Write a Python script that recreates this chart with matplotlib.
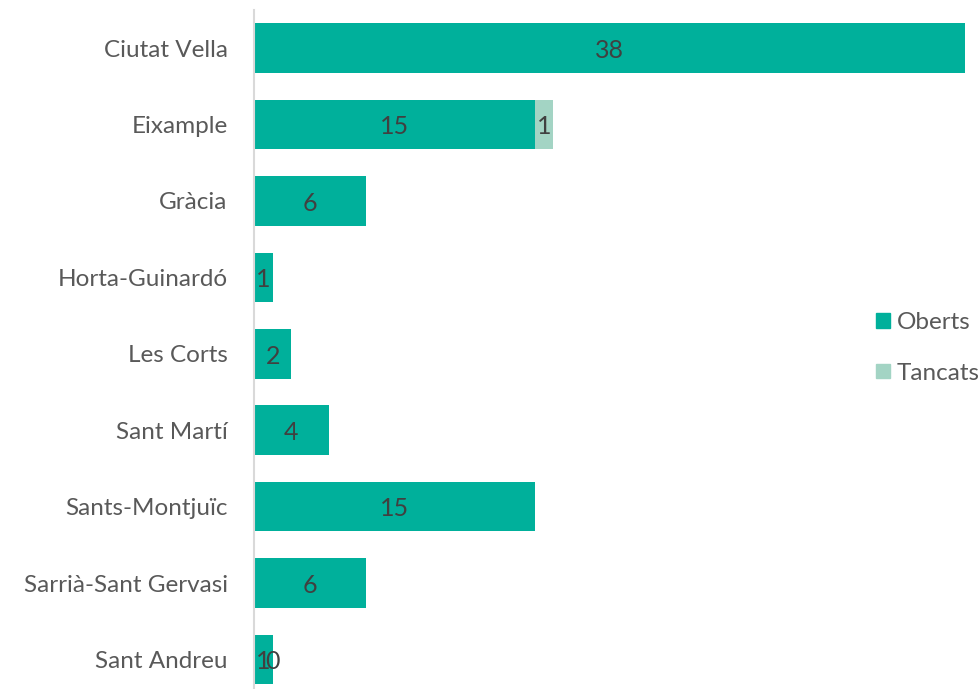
import numpy as np
import matplotlib.pyplot as plt
from matplotlib.patches import Patch

districtes = ["Ciutat Vella", "Eixample", "Gràcia", "Horta-Guinardó", "Les Corts",
              "Sant Martí", "Sants-Montjuïc", "Sarrià-Sant Gervasi", "Sant Andreu"]
oberts = [38, 15, 6, 1, 2, 4, 15, 6, 1]
tancats = [None, 1, None, None, None, None, None, None, 0]

c_oberts = "#00B09B"
c_tancats = "#A3D4C4"

plt.rcParams['font.family'] = ['Lato', 'DejaVu Sans']

fig = plt.figure(figsize=(9.8, 6.89), dpi=100)
ax = fig.add_axes([0.2592, -0.0125, 0.7255, 0.998])

y = np.arange(len(districtes))
t = np.array([v if v is not None else 0 for v in tancats])
ax.barh(y, oberts, height=0.65, color=c_oberts)
ax.barh(y, t, left=oberts, height=0.65, color=c_tancats)

# etiquetes de dades
for i, v in enumerate(oberts):
    ax.text(v / 2, i + 0.03, str(v), ha="center", va="center", fontsize=18, color="#404040")
for i, v in enumerate(tancats):
    if v is not None:
        ax.text(oberts[i] + v / 2, i + 0.03, str(v), ha="center", va="center", fontsize=18, color="#404040")

ax.set_xlim(0, 38)
ax.set_ylim(8.5, -0.5)
ax.set_yticks(y)
ax.set_yticklabels(districtes, fontsize=17.5, color="#595959")
ax.tick_params(axis="y", length=0, pad=19)
ax.set_xticks([])
for s in ["top", "right", "bottom"]:
    ax.spines[s].set_visible(False)
ax.spines["left"].set_color("#D9D9D9")
ax.spines["left"].set_linewidth(1.5)

handles = [Patch(color=c_oberts, label="Oberts"), Patch(color=c_tancats, label="Tancats")]
fig.legend(handles=handles, loc="center left", bbox_to_anchor=(0.872, 0.495), frameon=False,
           fontsize=17.5, labelcolor="#595959", handlelength=0.55, handleheight=0.55,
           handletextpad=0.3, labelspacing=1.2)

fig.savefig("out.png", dpi=100)
